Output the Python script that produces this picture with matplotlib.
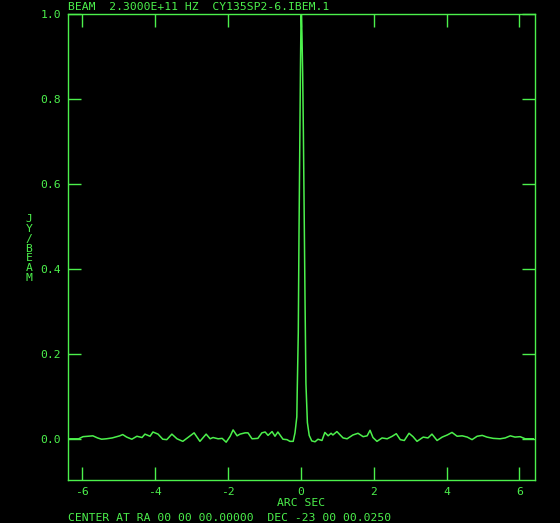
import matplotlib
matplotlib.use("Agg")
import matplotlib.pyplot as plt

# beam slice (arc sec, Jy/beam)
offset = [-6.41, -6.10, -5.98, -5.84, -5.71, -5.58, -5.47, -5.34, -5.18, -4.97,
          -4.89, -4.78, -4.64, -4.50, -4.36, -4.28, -4.14, -4.06, -3.92, -3.79,
          -3.68, -3.54, -3.40, -3.24, -3.10, -2.93, -2.77, -2.60, -2.49, -2.41,
          -2.27, -2.16, -2.05, -1.94, -1.86, -1.75, -1.67, -1.53, -1.45, -1.34,
          -1.18, -1.07, -0.98, -0.90, -0.79, -0.71, -0.63, -0.49, -0.38, -0.30,
          -0.21, -0.16, -0.11, -0.10, -0.07, -0.05, -0.03, -0.01, 0.005, 0.015,
          0.03, 0.05, 0.07, 0.09, 0.115, 0.14, 0.18, 0.23, 0.30, 0.39,
          0.47, 0.58, 0.66, 0.75, 0.83, 0.88, 0.99, 1.08, 1.16, 1.27,
          1.43, 1.57, 1.71, 1.82, 1.90, 1.98, 2.09, 2.23, 2.37, 2.51,
          2.62, 2.73, 2.84, 2.97, 3.08, 3.19, 3.36, 3.49, 3.60, 3.74,
          3.88, 4.02, 4.15, 4.29, 4.43, 4.57, 4.70, 4.84, 4.98, 5.11,
          5.28, 5.47, 5.61, 5.75, 5.88, 6.02, 6.16, 6.38]
flux = [0.0, 0.0, 0.005, 0.006, 0.007, 0.002, -0.001, 0.0, 0.002, 0.007,
        0.010, 0.004, -0.001, 0.006, 0.003, 0.011, 0.006, 0.016, 0.011, -0.001,
        -0.002, 0.011, 0.0, -0.006, 0.003, 0.014, -0.006, 0.011, 0.0, 0.003,
        0.0, 0.001, -0.008, 0.006, 0.021, 0.007, 0.011, 0.014, 0.014, 0.0,
        0.001, 0.014, 0.016, 0.008, 0.017, 0.006, 0.016, -0.001, -0.002, -0.006,
        -0.006, 0.014, 0.052, 0.108, 0.25, 0.485, 0.68, 0.875, 0.993, 1.0,
        0.955, 0.86, 0.72, 0.546, 0.327, 0.13, 0.038, 0.008, -0.005, -0.007,
        -0.001, -0.004, 0.015, 0.007, 0.013, 0.009, 0.017, 0.009, 0.002, 0.0,
        0.009, 0.013, 0.005, 0.007, 0.020, 0.003, -0.006, 0.002, 0.0, 0.006,
        0.012, -0.002, -0.004, 0.013, 0.005, -0.006, 0.004, 0.002, 0.011, -0.004,
        0.004, 0.009, 0.015, 0.006, 0.007, 0.004, -0.002, 0.006, 0.008, 0.004,
        0.001, 0.0, 0.002, 0.007, 0.004, 0.005, 0.0, 0.0]

xticks = [-6, -4, -2, 0, 2, 4, 6]
yticks = [0.0, 0.2, 0.4, 0.6, 0.8, 1.0]

title = "BEAM  2.3000E+11 HZ  CY135SP2-6.IBEM.1"
footer = "CENTER AT RA 00 00 00.00000  DEC -23 00 00.0250"

green = "#4cf04c"
W, H = 560, 523

plt.rcParams['font.family'] = 'DejaVu Sans Mono'
plt.rcParams['font.size'] = 8.2

fig = plt.figure(figsize=(W / 100, H / 100), dpi=100, facecolor="black")
ax = fig.add_axes([67.7 / W, 1 - 480 / H, (534.7 - 67.7) / W, (480 - 14) / H],
                  facecolor="black")

ax.plot(offset, flux, color=green, lw=1.1)

ax.set_xlim(-6.40, 6.42)
ax.set_ylim(-0.097, 1.0)
ax.set_xticks(xticks)
ax.set_xticklabels([str(t) for t in xticks])
ax.set_yticks(yticks)
ax.set_yticklabels(["%.1f" % t for t in yticks])

for s in ax.spines.values():
    s.set_color(green)
    s.set_linewidth(1.0)
ax.tick_params(direction="in", length=9.4, width=1.0, color=green,
               labelcolor=green, top=True, right=True, pad=5)

ax.set_xlabel("ARC SEC", color=green, labelpad=1)

# stacked y label
fig.text(29 / W, 1 - 248.5 / H, "\n".join("JY/BEAM"), color=green,
         ha="center", va="center", linespacing=0.97)

fig.text(67.7 / W, 1 - 10.5 / H, title, color=green, ha="left", va="baseline")
fig.text(67.7 / W, 1 - 521 / H, footer, color=green, ha="left", va="baseline")

fig.savefig("out.png", dpi=100, facecolor="black")
